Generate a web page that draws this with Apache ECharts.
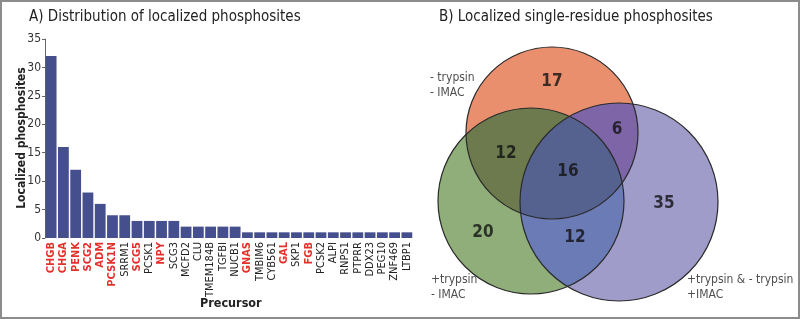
<!DOCTYPE html>
<html>
<head>
<meta charset="utf-8">
<script src="https://cdn.jsdelivr.net/npm/echarts@6/dist/echarts.min.js"></script>
<style>
  html, body { margin: 0; padding: 0; background: #fff; }
  #chart { width: 800px; height: 319px; }
  #frame { position: absolute; left: 0; top: 0; width: 800px; height: 319px; box-sizing: border-box;
           border: 2px solid #8c8c8c; pointer-events: none; }
</style>
</head>
<body>
<div id="chart"></div>
<div id="frame"></div>
<script>
// bar panel data
const precursors = ['CHGB','CHGA','PENK','SCG2','ADM','PCSK1N','SRRM1','SCG5','PCSK1','NPY','SCG3','MCFD2','CLU','TMEM184B','TGFBI','NUCB1','GNAS','TMBIM6','CYB561','GAL','SKP1','FGB','PCSK2','ALPI','RNPS1','PTPRR','DDX23','PEG10','ZNF469','LTBP1'];
const phosphosites = [32,16,12,8,6,4,4,3,3,3,3,2,2,2,2,2,1,1,1,1,1,1,1,1,1,1,1,1,1,1];
const highlighted = ['CHGB','CHGA','PENK','SCG2','ADM','PCSK1N','SCG5','NPY','GNAS','GAL','FGB'];
const yTicks = [0,5,10,15,20,25,30,35];

// venn panel data: circles [x, y, radius] in panel units
const vennSets = ['- trypsin\n- IMAC', '+trypsin\n- IMAC', '+trypsin & - trypsin\n+IMAC'];
const vennCircles = [[152,133,86],[131,201,93],[219,202,99]];
const vennOverlaps = [[0,1],[0,2],[1,2],[0,1,2]];
const vennCounts = [[152,82,17],[217,130,6],[106,154,12],[168,172,16],[264,204,35],[83,233,20],[175,238,12]];
const vennLabelPos = [[30,85],[31,287],[287,287]];

const fontNarrow = '"Liberation Sans Narrow", "DejaVu Sans Condensed", sans-serif';
const circleColors = ['#e98f6e','#8fae7a','#a09cca'];
const overlapColors = ['#6c7a4e','#7d65a7','#6a7bb6','#55618f'];

let myChart = echarts.init(document.getElementById('chart'));

function circleShape(api, idx) {
    let d = vennCircles[idx];
    let c = api.coord([d[0], d[1]]);
    return {cx: c[0], cy: c[1], r: api.size([d[2], 0])[0]};
}

let option = {
    animation: false,
    title: [
        {text: 'A) Distribution of localized phosphosites', left: 24, top: 5,
         textStyle: {fontFamily: fontNarrow, fontSize: 15, fontWeight: 'normal', color: '#222'}},
        {text: 'B) Localized single-residue phosphosites', left: 434, top: 5,
         textStyle: {fontFamily: fontNarrow, fontSize: 15, fontWeight: 'normal', color: '#222'}},
        {text: 'Precursor', left: 195, top: 292,
         textStyle: {fontFamily: fontNarrow, fontSize: 12.5, fontWeight: 'bold', color: '#222'}}
    ],
    graphic: [
        {type: 'text', x: 22, y: 138, rotation: Math.PI / 2,
         style: {text: 'Localized phosphosites', align: 'center', verticalAlign: 'middle',
                 font: 'bold 12px ' + fontNarrow, fill: '#222'}}
    ],
    grid: [
        {left: 45, top: 39, width: 368, height: 199, outerBoundsMode: 'none'},
        {left: 400, top: 0, width: 400, height: 319, outerBoundsMode: 'none'}
    ],
    xAxis: [
        {
            type: 'category',
            gridIndex: 0,
            data: precursors.map(function (p) {
                let hi = highlighted.indexOf(p) >= 0;
                return {value: p, textStyle: {color: hi ? '#e5312b' : '#222', fontWeight: hi ? 'bold' : 'normal'}};
            }),
            axisLine: {show: false},
            axisTick: {show: false},
            axisLabel: {interval: 0, rotate: 90, fontFamily: fontNarrow, fontSize: 11, margin: 4}
        },
        {type: 'value', gridIndex: 1, min: 0, max: 400, show: false}
    ],
    yAxis: [
        {
            type: 'value',
            gridIndex: 0,
            min: 0,
            max: 35,
            interval: 5,
            axisLine: {show: true, lineStyle: {color: '#666', width: 1}},
            axisTick: {show: true, length: 3, lineStyle: {color: '#666'}},
            axisLabel: {fontFamily: fontNarrow, fontSize: 12, color: '#333', margin: 4,
                formatter: function (v) { return yTicks.indexOf(v) >= 0 ? v : ''; }},
            splitLine: {show: false}
        },
        {type: 'value', gridIndex: 1, min: 0, max: 319, inverse: true, show: false}
    ],
    series: [
        {
            type: 'bar',
            xAxisIndex: 0,
            yAxisIndex: 0,
            data: phosphosites,
            barCategoryGap: '12%',
            itemStyle: {color: '#464f8e'}
        },
        {
            // plain circles
            type: 'custom',
            xAxisIndex: 1,
            yAxisIndex: 1,
            data: vennCircles,
            renderItem: function (params, api) {
                return {
                    type: 'circle',
                    shape: circleShape(api, params.dataIndex),
                    style: {fill: circleColors[params.dataIndex]}
                };
            }
        },
        {
            // overlaps, clipped by the other circles
            type: 'custom',
            xAxisIndex: 1,
            yAxisIndex: 1,
            data: vennOverlaps.map(function (o) { return vennCircles[o[0]].slice(0, 2); }),
            renderItem: function (params, api) {
                let o = vennOverlaps[params.dataIndex];
                let inner = {
                    type: 'circle',
                    shape: circleShape(api, o[0]),
                    clipPath: {type: 'circle', shape: circleShape(api, o[1])},
                    style: {fill: overlapColors[params.dataIndex]}
                };
                if (o.length < 3) return inner;
                return {
                    type: 'group',
                    clipPath: {type: 'circle', shape: circleShape(api, o[2])},
                    children: [inner]
                };
            }
        },
        {
            // outlines
            type: 'custom',
            xAxisIndex: 1,
            yAxisIndex: 1,
            data: vennCircles,
            renderItem: function (params, api) {
                return {
                    type: 'circle',
                    shape: circleShape(api, params.dataIndex),
                    style: {fill: 'none', stroke: '#2a2a2a', lineWidth: 1.2}
                };
            }
        },
        {
            type: 'scatter',
            xAxisIndex: 1,
            yAxisIndex: 1,
            symbolSize: 0,
            data: vennCounts,
            label: {
                show: true, position: 'inside',
                formatter: function (p) { return p.value[2]; },
                fontFamily: fontNarrow, fontSize: 17, fontWeight: 'bold', color: '#111'
            }
        },
        {
            type: 'scatter',
            xAxisIndex: 1,
            yAxisIndex: 1,
            symbolSize: 0,
            data: vennLabelPos.map(function (p, i) { return {name: vennSets[i], value: p}; }),
            label: {
                show: true, position: 'right', distance: 0, align: 'left',
                formatter: function (p) { return p.name; },
                fontFamily: fontNarrow, fontSize: 12, lineHeight: 15, color: '#222'
            }
        }
    ]
};

myChart.setOption(option);
</script>
</body>
</html>
